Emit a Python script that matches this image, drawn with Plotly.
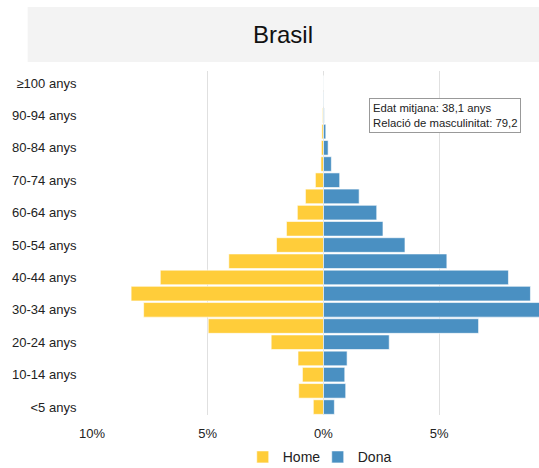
import plotly.graph_objects as go

age_groups = ["<5 anys", "5-9 anys", "10-14 anys", "15-19 anys", "20-24 anys",
              "25-29 anys", "30-34 anys", "35-39 anys", "40-44 anys", "45-49 anys",
              "50-54 anys", "55-59 anys", "60-64 anys", "65-69 anys", "70-74 anys",
              "75-79 anys", "80-84 anys", "85-89 anys", "90-94 anys", "95-99 anys",
              "≥100 anys"]
male = [0.44, 1.07, 0.91, 1.10, 2.26, 4.98, 7.77, 8.31, 7.05, 4.09,
        2.03, 1.60, 1.13, 0.78, 0.35, 0.11, 0.09, 0.07, 0.04, 0.02, 0.01]
female = [0.47, 0.96, 0.92, 1.02, 2.84, 6.70, 9.60, 8.94, 7.99, 5.33,
          3.52, 2.57, 2.30, 1.54, 0.70, 0.34, 0.20, 0.10, 0.03, 0.02, 0.01]
x_ticks = [-10, -5, 0, 5]
x_tick_labels = ["10%", "5%", "0%", "5%"]
info_lines = ["Edat mitjana: 38,1 anys", "Relació de masculinitat: 79,2"]

YELLOW = "#ffcd3a"
BLUE = "#4a90c2"
FONT = "Liberation Sans, Arial, sans-serif"

fig = go.Figure()
fig.add_trace(go.Bar(
    y=age_groups, x=[-v for v in male], orientation="h", name="Home",
    marker=dict(color=YELLOW, line=dict(color="rgba(255,255,255,0.6)", width=1)),
))
fig.add_trace(go.Bar(
    y=age_groups, x=female, orientation="h", name="Dona",
    marker=dict(color=BLUE, line=dict(color="rgba(255,255,255,0.6)", width=1)),
))

# grey title band
fig.add_shape(type="rect", xref="paper", yref="paper",
              x0=-0.144, x1=1.0, y0=1.026, y1=1.186,
              fillcolor="#f3f3f3", line=dict(width=0), layer="below")

fig.add_annotation(
    xref="paper", yref="paper", x=0.62, y=0.9216, xanchor="left", yanchor="top",
    text="<br>".join(info_lines), align="left", showarrow=False,
    font=dict(size=11.3, color="#222", family=FONT),
    bgcolor="white", bordercolor="#999", borderwidth=1, borderpad=3,
)

fig.update_layout(
    width=539, height=468,
    margin=dict(l=91.5, r=0, t=71, b=52.5, pad=0, autoexpand=False),
    barmode="relative", bargap=0.1,
    paper_bgcolor="white", plot_bgcolor="white",
    font=dict(family=FONT, size=13, color="#222"),
    title=dict(text="Brasil", x=0.525, xanchor="center", y=0.927, yanchor="middle",
               font=dict(size=24, color="#111", family=FONT)),
    legend=dict(orientation="h", x=0.505, xanchor="center", y=-0.123, yanchor="middle",
                font=dict(size=14), traceorder="normal", entrywidth=30,
                itemwidth=30),
    xaxis=dict(range=[-10, 9.31], tickvals=x_ticks, ticktext=x_tick_labels,
               showgrid=True, gridcolor="#e0e0e0", gridwidth=1, zeroline=False,
               ticks="outside", ticklen=6, tickcolor="rgba(0,0,0,0)",
               automargin=False, fixedrange=True),
    yaxis=dict(categoryorder="array", categoryarray=age_groups,
               tickvals=age_groups[::2], range=[-0.49, 20.74],
               showgrid=False, zeroline=False, ticks="outside", ticklen=12,
               tickcolor="rgba(0,0,0,0)", automargin=False),
    showlegend=True,
)

# drop the browser's default page margin so the figure sits at (0, 0)
fig.write_html("out.html", config={"displayModeBar": False},
               post_script="document.body.style.margin='0';")
